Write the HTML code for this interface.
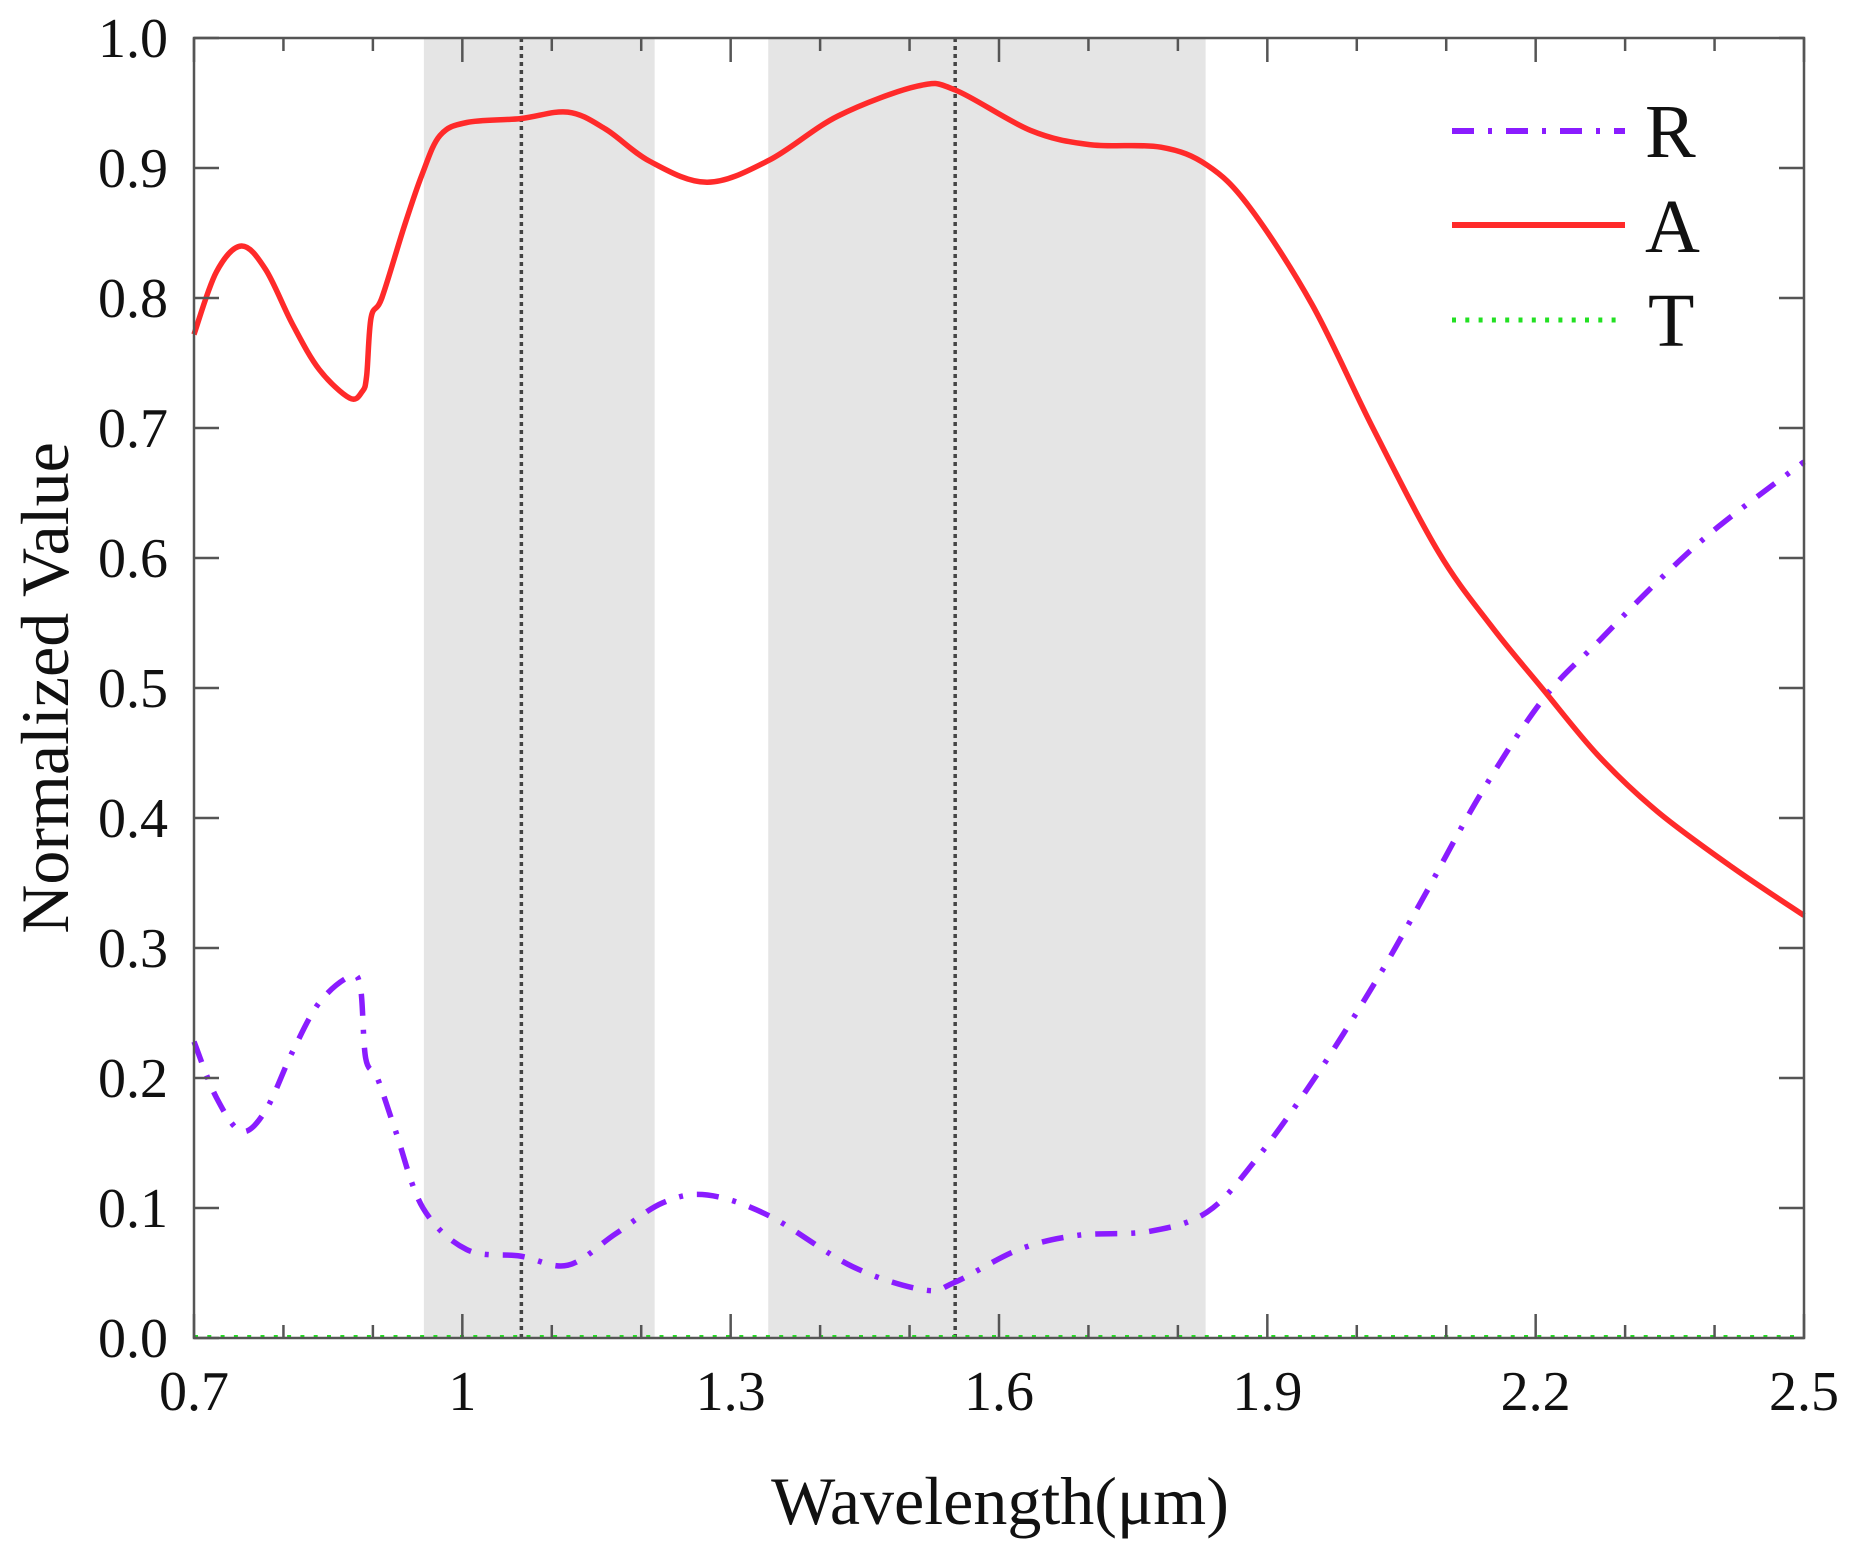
<!DOCTYPE html>
<html><head><meta charset="utf-8"><style>
html,body{margin:0;padding:0;background:#fff;}
svg{display:block;font-family:"Liberation Serif",serif;}
</style></head><body>
<svg id="s" width="1856" height="1552" viewBox="0 0 1856 1552" xmlns="http://www.w3.org/2000/svg">
<rect x="0" y="0" width="1856" height="1552" fill="#fff"/>
<g id="shade"></g>
<g id="grid"></g>
<g id="curves"></g>
<rect x="194" y="38" width="1610" height="1300" fill="none" stroke="#555" stroke-width="2.5"/>
<g id="ticks" stroke="#555" stroke-width="2.5"></g>
<g id="labels" font-size="56" fill="#111"></g>
<text x="1000" y="1524" font-size="68" text-anchor="middle" fill="#111">Wavelength(μm)</text>
<text transform="translate(68,688) rotate(-90)" font-size="68" text-anchor="middle" fill="#111">Normalized Value</text>
<g>
<line x1="1452" y1="131" x2="1625" y2="131" stroke="#8a1cff" stroke-width="6" stroke-dasharray="22 14 4 14" stroke-linecap="butt"/>
<line x1="1452" y1="225" x2="1625" y2="225" stroke="#ff2a2a" stroke-width="6"/>
<line x1="1452" y1="320" x2="1620" y2="320" stroke="#22e022" stroke-width="5" stroke-dasharray="4 9.3"/>
<text x="1645" y="157" font-size="76" fill="#111">R</text>
<text x="1645" y="252" font-size="76" fill="#111">A</text>
<text x="1648" y="346" font-size="76" fill="#111">T</text>
</g>
</svg>
<script>
const X0=194,X1=1804,Y0=1338,Y1=38;
const fx=w=>X0+(w-0.7)/1.8*(X1-X0);
const fy=v=>Y0-v*(Y0-Y1);
const NS="http://www.w3.org/2000/svg";
function el(parent,tag,attrs,txt){const e=document.createElementNS(NS,tag);for(const k in attrs)e.setAttribute(k,attrs[k]);if(txt!==undefined)e.textContent=txt;document.getElementById(parent).appendChild(e);return e;}
[[0.957,1.215],[1.342,1.831]].forEach(([a,b])=>el("shade","rect",{x:fx(a),y:Y1,width:fx(b)-fx(a),height:Y0-Y1,fill:"#e5e5e5"}));
[1.066,1.551].forEach(w=>el("grid","line",{x1:fx(w),y1:Y1,x2:fx(w),y2:Y0,stroke:"#444","stroke-width":3.5,"stroke-dasharray":"4 4"}));
for(let i=0;i<=18;i++){const w=0.7+i*0.1;const x=fx(w);const L=(i%3==0)?24:13;
 el("ticks","line",{x1:x,y1:Y0,x2:x,y2:Y0-L});el("ticks","line",{x1:x,y1:Y1,x2:x,y2:Y1+L});
 if(i%3==0){el("labels","text",{x:x,y:1410,"text-anchor":"middle"},(i==3)?"1":w.toFixed(1));}}
for(let i=0;i<=10;i++){const y=fy(i/10);
 el("ticks","line",{x1:X0,y1:y,x2:X0+25,y2:y});el("ticks","line",{x1:X1,y1:y,x2:X1-25,y2:y});
 el("labels","text",{x:168,y:y+19,"text-anchor":"end"},(i/10).toFixed(1));}
function path(pts){const p=pts.map(([w,v])=>[fx(w),fy(v)]);let d="M"+p[0][0]+","+p[0][1];
 for(let i=0;i<p.length-1;i++){const p0=p[Math.max(0,i-1)],p1=p[i],p2=p[i+1],p3=p[Math.min(p.length-1,i+2)];const t=6;
  d+=` C${p1[0]+(p2[0]-p0[0])/t},${p1[1]+(p2[1]-p0[1])/t} ${p2[0]-(p3[0]-p1[0])/t},${p2[1]-(p3[1]-p1[1])/t} ${p2[0]},${p2[1]}`;}
 return d;}
const A=[[0.7,0.772],[0.725,0.82],[0.753,0.840],[0.78,0.822],[0.81,0.78],[0.84,0.745],[0.874,0.723],[0.888,0.728],[0.893,0.74],[0.898,0.785],[0.91,0.80],[0.935,0.855],[0.955,0.895],[0.975,0.925],[1.005,0.935],[1.065,0.938],[1.118,0.943],[1.16,0.93],[1.21,0.905],[1.274,0.889],[1.343,0.906],[1.42,0.94],[1.509,0.963],[1.551,0.96],[1.635,0.929],[1.701,0.918],[1.781,0.916],[1.833,0.902],[1.88,0.87],[1.95,0.795],[2.018,0.70],[2.091,0.605],[2.15,0.548],[2.207,0.50],[2.27,0.448],[2.336,0.405],[2.42,0.362],[2.5,0.325]];
const R=[[0.7,0.228],[0.725,0.185],[0.753,0.159],[0.78,0.175],[0.81,0.22],[0.84,0.258],[0.874,0.278],[0.886,0.27],[0.892,0.215],[0.905,0.20],[0.925,0.16],[0.956,0.10],[1.005,0.068],[1.065,0.063],[1.118,0.056],[1.171,0.08],[1.224,0.104],[1.274,0.110],[1.343,0.094],[1.436,0.055],[1.516,0.037],[1.551,0.043],[1.622,0.068],[1.688,0.079],[1.768,0.082],[1.833,0.097],[1.887,0.137],[1.953,0.20],[2.02,0.273],[2.073,0.337],[2.139,0.419],[2.209,0.492],[2.272,0.537],[2.338,0.583],[2.404,0.624],[2.5,0.674]];
el("curves","path",{d:path(R),fill:"none",stroke:"#8a1cff","stroke-width":5.5,"stroke-dasharray":"22 14 4 14"});
el("curves","path",{d:path(A),fill:"none",stroke:"#ff2a2a","stroke-width":5.5});
el("curves","line",{x1:X0,y1:Y0-1,x2:X1,y2:Y0-1,stroke:"#22e022","stroke-width":4,"stroke-dasharray":"4 9.3"});
</script>
</body></html>
